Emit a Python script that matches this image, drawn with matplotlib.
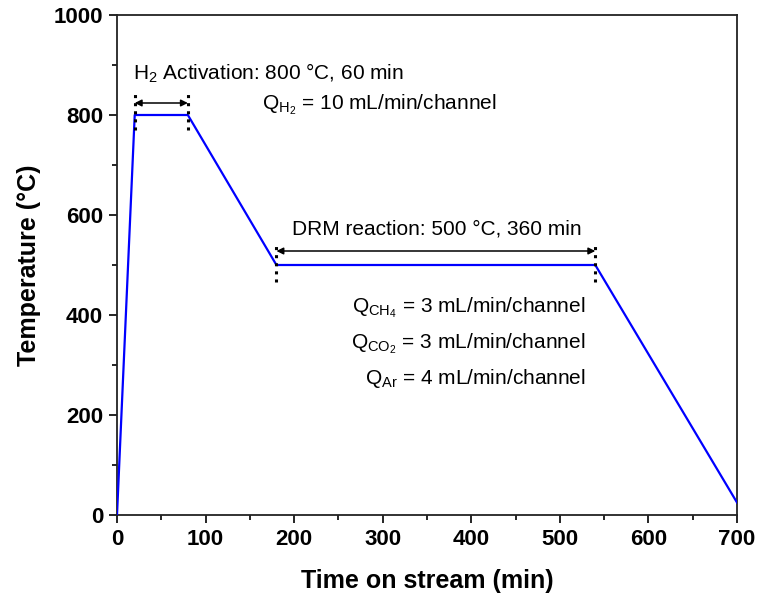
import matplotlib
matplotlib.use("Agg")
import matplotlib.pyplot as plt
from matplotlib.ticker import MultipleLocator

plt.rcParams['font.family'] = ['Liberation Sans', 'DejaVu Sans']
plt.rcParams['mathtext.fontset'] = 'custom'
plt.rcParams['mathtext.rm'] = 'Liberation Sans'
plt.rcParams['mathtext.it'] = 'Liberation Sans:italic'
plt.rcParams['mathtext.bf'] = 'Liberation Sans:bold'

# Temperature program
time_min = [0, 20, 80, 180, 540, 700]
temperature_c = [0, 800, 800, 500, 500, 25]

# Stage boundaries
activation_span = [20, 80]
reaction_span = [180, 540]

fig = plt.figure(figsize=(7.58, 6.01), dpi=100)
ax = fig.add_axes([117 / 758, 1 - 515 / 601, 620 / 758, 500 / 601])

ax.plot(time_min, temperature_c, color='#0000ff', lw=1.6, zorder=3)

# Dotted stage markers
for x in activation_span:
    ax.plot([x, x], [770, 842], color='black', ls=':', lw=2.2, zorder=4)
for x in reaction_span:
    ax.plot([x, x], [466, 542], color='black', ls=':', lw=2.2, zorder=4)

# Duration arrows
ax.annotate('', xy=(activation_span[1], 824), xytext=(activation_span[0], 824),
            arrowprops=dict(arrowstyle='<|-|>', color='black', lw=1.1,
                            shrinkA=0, shrinkB=0, mutation_scale=10))
ax.annotate('', xy=(reaction_span[1], 528), xytext=(reaction_span[0], 528),
            arrowprops=dict(arrowstyle='<|-|>', color='black', lw=1.1,
                            shrinkA=0, shrinkB=0, mutation_scale=10))

fs = 15
ax.text(18, 884, r'H$_{\mathrm{2}}$ Activation: 800 °C, 60 min', fontsize=fs,
        ha='left', va='center')
ax.text(164, 820, r'Q$_{\mathrm{H_2}}$ = 10 mL/min/channel', fontsize=fs,
        ha='left', va='center')
ax.text(361, 572, 'DRM reaction: 500 °C, 360 min', fontsize=fs,
        ha='center', va='center')
ax.text(529, 414, r'Q$_{\mathrm{CH_4}}$ = 3 mL/min/channel', fontsize=fs,
        ha='right', va='center')
ax.text(529, 343, r'Q$_{\mathrm{CO_2}}$ = 3 mL/min/channel', fontsize=fs,
        ha='right', va='center')
ax.text(529, 273, r'Q$_{\mathrm{Ar}}$ = 4 mL/min/channel', fontsize=fs,
        ha='right', va='center')

ax.set_xlim(0, 700)
ax.set_ylim(0, 1000)
ax.xaxis.set_major_locator(MultipleLocator(100))
ax.xaxis.set_minor_locator(MultipleLocator(50))
ax.yaxis.set_major_locator(MultipleLocator(200))
ax.yaxis.set_minor_locator(MultipleLocator(100))
ax.tick_params(which='both', direction='out', top=False, right=False, width=1.2)
ax.tick_params(which='major', length=6, labelsize=16, pad=4)
ax.tick_params(which='minor', length=3.5)
for lbl in ax.get_xticklabels() + ax.get_yticklabels():
    lbl.set_fontweight('bold')
for sp in ax.spines.values():
    sp.set_linewidth(1.3)
    sp.set_color('#222222')

ax.set_xlabel('Time on stream (min)', fontsize=18, fontweight='bold', labelpad=14)
ax.set_ylabel('Temperature (°C)', fontsize=18, fontweight='bold', labelpad=9)

fig.savefig('out.png', dpi=100)
